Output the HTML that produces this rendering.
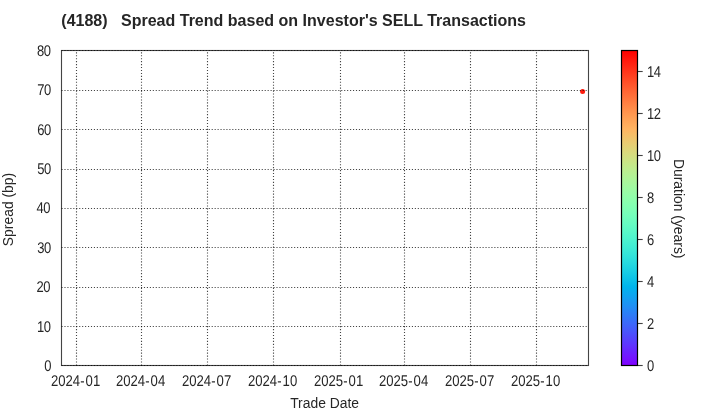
<!DOCTYPE html>
<html lang="en"><head><meta charset="utf-8"><title>(4188) Spread Trend based on Investor's SELL Transactions</title>
<style>html,body{margin:0;padding:0;background:#fff}body{width:720px;height:420px;overflow:hidden}svg{display:block}text{font-family:"Liberation Sans",Arial,Helvetica,sans-serif;fill:#262626;white-space:pre}</style></head><body>
<svg width="720" height="420" viewBox="0 0 720 420">
<rect x="0" y="0" width="720" height="420" fill="#ffffff"/>
<defs><linearGradient id="rb" x1="0" y1="0" x2="0" y2="1"><stop offset="0.0000" stop-color="#ff0000"/><stop offset="0.0156" stop-color="#ff0d06"/><stop offset="0.0312" stop-color="#ff190d"/><stop offset="0.0469" stop-color="#ff2513"/><stop offset="0.0625" stop-color="#ff3219"/><stop offset="0.0781" stop-color="#ff3e1f"/><stop offset="0.0938" stop-color="#ff4a25"/><stop offset="0.1094" stop-color="#ff562c"/><stop offset="0.1250" stop-color="#ff6232"/><stop offset="0.1406" stop-color="#ff6d38"/><stop offset="0.1562" stop-color="#ff783e"/><stop offset="0.1719" stop-color="#ff8344"/><stop offset="0.1875" stop-color="#ff8e4a"/><stop offset="0.2031" stop-color="#ff9850"/><stop offset="0.2188" stop-color="#ffa256"/><stop offset="0.2344" stop-color="#ffab5c"/><stop offset="0.2500" stop-color="#ffb462"/><stop offset="0.2656" stop-color="#f7bd67"/><stop offset="0.2812" stop-color="#efc56d"/><stop offset="0.2969" stop-color="#e7cd73"/><stop offset="0.3125" stop-color="#dfd478"/><stop offset="0.3281" stop-color="#d7db7e"/><stop offset="0.3438" stop-color="#cfe183"/><stop offset="0.3594" stop-color="#c7e788"/><stop offset="0.3750" stop-color="#bfec8e"/><stop offset="0.3906" stop-color="#b7f093"/><stop offset="0.4062" stop-color="#aff498"/><stop offset="0.4219" stop-color="#a7f79d"/><stop offset="0.4375" stop-color="#9ffaa2"/><stop offset="0.4531" stop-color="#97fca7"/><stop offset="0.4688" stop-color="#8ffeab"/><stop offset="0.4844" stop-color="#87ffb0"/><stop offset="0.5000" stop-color="#80ffb4"/><stop offset="0.5156" stop-color="#78ffb9"/><stop offset="0.5312" stop-color="#70febd"/><stop offset="0.5469" stop-color="#68fcc1"/><stop offset="0.5625" stop-color="#60fac5"/><stop offset="0.5781" stop-color="#58f7c9"/><stop offset="0.5938" stop-color="#50f4cd"/><stop offset="0.6094" stop-color="#48f0d0"/><stop offset="0.6250" stop-color="#40ecd4"/><stop offset="0.6406" stop-color="#38e7d7"/><stop offset="0.6562" stop-color="#30e1db"/><stop offset="0.6719" stop-color="#28dbde"/><stop offset="0.6875" stop-color="#20d4e1"/><stop offset="0.7031" stop-color="#18cde4"/><stop offset="0.7188" stop-color="#10c5e7"/><stop offset="0.7344" stop-color="#08bde9"/><stop offset="0.7500" stop-color="#00b4ec"/><stop offset="0.7656" stop-color="#08abee"/><stop offset="0.7812" stop-color="#10a2f0"/><stop offset="0.7969" stop-color="#1898f2"/><stop offset="0.8125" stop-color="#208ef4"/><stop offset="0.8281" stop-color="#2883f6"/><stop offset="0.8438" stop-color="#3078f7"/><stop offset="0.8594" stop-color="#386df9"/><stop offset="0.8750" stop-color="#4062fa"/><stop offset="0.8906" stop-color="#4856fb"/><stop offset="0.9062" stop-color="#504afc"/><stop offset="0.9219" stop-color="#583efd"/><stop offset="0.9375" stop-color="#6032fe"/><stop offset="0.9531" stop-color="#6825fe"/><stop offset="0.9688" stop-color="#7019ff"/><stop offset="0.9844" stop-color="#780dff"/><stop offset="1.0000" stop-color="#8000ff"/></linearGradient></defs>
<circle cx="582.60" cy="91.50" r="2.50" fill="#ff1b0d"/>
<g stroke="#000000" stroke-opacity="0.733" stroke-width="1.11" stroke-dasharray="1.1111 1.8333" fill="none"><line x1="76.5" y1="365.5" x2="76.5" y2="50.5"/><line x1="141.5" y1="365.5" x2="141.5" y2="50.5"/><line x1="207.5" y1="365.5" x2="207.5" y2="50.5"/><line x1="273.5" y1="365.5" x2="273.5" y2="50.5"/><line x1="340.5" y1="365.5" x2="340.5" y2="50.5"/><line x1="404.5" y1="365.5" x2="404.5" y2="50.5"/><line x1="470.5" y1="365.5" x2="470.5" y2="50.5"/><line x1="536.5" y1="365.5" x2="536.5" y2="50.5"/><line x1="61.5" y1="365.5" x2="588.5" y2="365.5"/><line x1="61.5" y1="326.5" x2="588.5" y2="326.5"/><line x1="61.5" y1="287.5" x2="588.5" y2="287.5"/><line x1="61.5" y1="247.5" x2="588.5" y2="247.5"/><line x1="61.5" y1="208.5" x2="588.5" y2="208.5"/><line x1="61.5" y1="169.5" x2="588.5" y2="169.5"/><line x1="61.5" y1="129.5" x2="588.5" y2="129.5"/><line x1="61.5" y1="90.5" x2="588.5" y2="90.5"/><line x1="61.5" y1="50.5" x2="588.5" y2="50.5"/></g>
<rect x="61.5" y="50.5" width="527.0" height="315.0" fill="none" stroke="#000000" stroke-opacity="0.733" stroke-width="1.11"/>
<rect x="621.5" y="50.5" width="16.0" height="315.0" fill="url(#rb)" stroke="#000000" stroke-width="1.20"/>
<g stroke="#000000" stroke-opacity="0.733" stroke-width="1.11"><line x1="637.5" y1="365.5" x2="642.70" y2="365.5"/><line x1="637.5" y1="323.5" x2="642.70" y2="323.5"/><line x1="637.5" y1="281.5" x2="642.70" y2="281.5"/><line x1="637.5" y1="239.5" x2="642.70" y2="239.5"/><line x1="637.5" y1="197.5" x2="642.70" y2="197.5"/><line x1="637.5" y1="155.5" x2="642.70" y2="155.5"/><line x1="637.5" y1="113.5" x2="642.70" y2="113.5"/><line x1="637.5" y1="71.5" x2="642.70" y2="71.5"/></g>
<text transform="translate(61.30 26.00) scale(0.9616 1.0000)" font-size="16.67" font-weight="bold" xml:space="preserve">(4188)   Spread Trend based on Investor's SELL Transactions</text>
<text transform="translate(51.50 370.85) scale(0.9350 1.1190)" font-size="13.89" text-anchor="end" text-rendering="geometricPrecision" xml:space="preserve">0</text>
<text transform="translate(50.95 331.85) scale(0.9350 1.1190)" font-size="13.89" text-anchor="end" text-rendering="geometricPrecision" dx="0 -0.460" xml:space="preserve">10</text>
<text transform="translate(50.45 291.85) scale(0.9350 1.1190)" font-size="13.89" text-anchor="end" text-rendering="geometricPrecision" dx="0 -0.460" xml:space="preserve">20</text>
<text transform="translate(51.29 252.85) scale(0.9350 1.1190)" font-size="13.89" text-anchor="end" text-rendering="geometricPrecision" dx="0 -0.460" xml:space="preserve">30</text>
<text transform="translate(50.45 212.85) scale(0.9350 1.1190)" font-size="13.89" text-anchor="end" text-rendering="geometricPrecision" dx="0 -0.460" xml:space="preserve">40</text>
<text transform="translate(51.29 173.85) scale(0.9350 1.1190)" font-size="13.89" text-anchor="end" text-rendering="geometricPrecision" dx="0 -0.460" xml:space="preserve">50</text>
<text transform="translate(51.29 134.85) scale(0.9350 1.1190)" font-size="13.89" text-anchor="end" text-rendering="geometricPrecision" dx="0 -0.460" xml:space="preserve">60</text>
<text transform="translate(51.15 94.85) scale(0.9350 1.1190)" font-size="13.89" text-anchor="end" text-rendering="geometricPrecision" dx="0 -0.460" xml:space="preserve">70</text>
<text transform="translate(50.95 55.85) scale(0.9350 1.1190)" font-size="13.89" text-anchor="end" text-rendering="geometricPrecision" dx="0 -0.460" xml:space="preserve">80</text>
<text transform="translate(75.55 385.85) scale(0.9450 1.1190)" font-size="13.89" text-anchor="middle" text-rendering="geometricPrecision" dx="0 0 0 0 0.317 0.952 0" xml:space="preserve">2024-01</text>
<text transform="translate(140.55 385.85) scale(0.9450 1.1190)" font-size="13.89" text-anchor="middle" text-rendering="geometricPrecision" dx="0 0 0 0 0.317 0.952 0" xml:space="preserve">2024-04</text>
<text transform="translate(206.55 385.85) scale(0.9450 1.1190)" font-size="13.89" text-anchor="middle" text-rendering="geometricPrecision" dx="0 0 0 0 0.317 0.952 0" xml:space="preserve">2024-07</text>
<text transform="translate(272.55 385.85) scale(0.9450 1.1190)" font-size="13.89" text-anchor="middle" text-rendering="geometricPrecision" dx="0 0 0 0 0.317 0.952 0" xml:space="preserve">2024-10</text>
<text transform="translate(338.55 385.85) scale(0.9450 1.1190)" font-size="13.89" text-anchor="middle" text-rendering="geometricPrecision" dx="0 0 0 0 0.317 0.952 0" xml:space="preserve">2025-01</text>
<text transform="translate(403.55 385.85) scale(0.9450 1.1190)" font-size="13.89" text-anchor="middle" text-rendering="geometricPrecision" dx="0 0 0 0 0.317 0.952 0" xml:space="preserve">2025-04</text>
<text transform="translate(469.55 385.85) scale(0.9450 1.1190)" font-size="13.89" text-anchor="middle" text-rendering="geometricPrecision" dx="0 0 0 0 0.317 0.952 0" xml:space="preserve">2025-07</text>
<text transform="translate(535.55 385.85) scale(0.9450 1.1190)" font-size="13.89" text-anchor="middle" text-rendering="geometricPrecision" dx="0 0 0 0 0.317 0.952 0" xml:space="preserve">2025-10</text>
<text transform="translate(324.60 408.00)" font-size="13.89" text-anchor="middle" xml:space="preserve">Trade Date</text>
<text transform="translate(13.00 209.50) rotate(-90)" font-size="13.89" text-anchor="middle" xml:space="preserve">Spread (bp)</text>
<text transform="translate(673.60 208.70) rotate(90)" font-size="13.89" text-anchor="middle" xml:space="preserve">Duration (years)</text>
<text transform="translate(647.05 370.85) scale(0.9350 1.1190)" font-size="13.89" text-rendering="geometricPrecision" xml:space="preserve">0</text>
<text transform="translate(647.05 328.85) scale(0.9350 1.1190)" font-size="13.89" text-rendering="geometricPrecision" xml:space="preserve">2</text>
<text transform="translate(647.05 286.85) scale(0.9350 1.1190)" font-size="13.89" text-rendering="geometricPrecision" xml:space="preserve">4</text>
<text transform="translate(647.05 244.85) scale(0.9350 1.1190)" font-size="13.89" text-rendering="geometricPrecision" xml:space="preserve">6</text>
<text transform="translate(647.05 202.85) scale(0.9350 1.1190)" font-size="13.89" text-rendering="geometricPrecision" xml:space="preserve">8</text>
<text transform="translate(647.05 160.85) scale(0.9350 1.1190)" font-size="13.89" text-rendering="geometricPrecision" dx="0 -0.460" xml:space="preserve">10</text>
<text transform="translate(647.05 118.85) scale(0.9350 1.1190)" font-size="13.89" text-rendering="geometricPrecision" dx="0 -0.460" xml:space="preserve">12</text>
<text transform="translate(647.05 76.85) scale(0.9350 1.1190)" font-size="13.89" text-rendering="geometricPrecision" dx="0 -0.460" xml:space="preserve">14</text>
</svg></body></html>
